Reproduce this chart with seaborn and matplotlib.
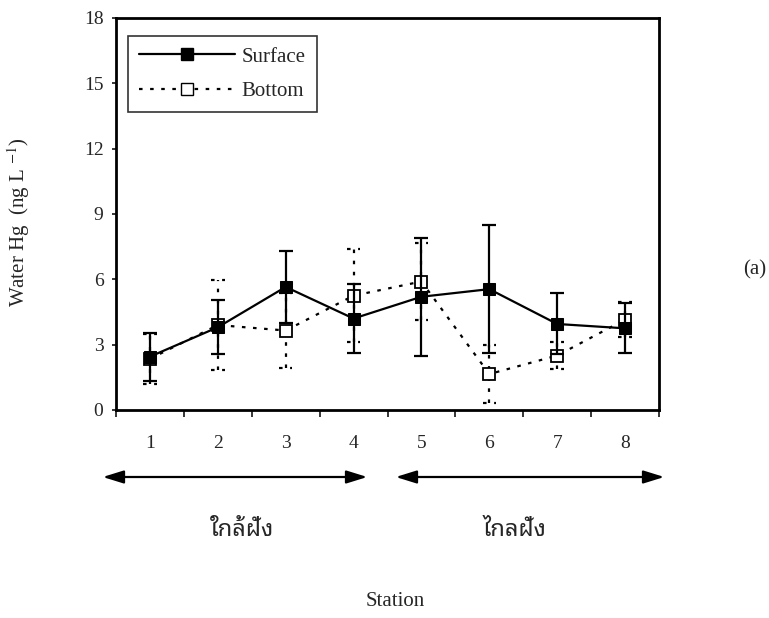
import matplotlib
matplotlib.use("Agg")
import matplotlib.pyplot as plt
import seaborn as sns
import pandas as pd
from matplotlib.lines import Line2D
from matplotlib import font_manager

# ---------------- data ----------------
stations = [1, 2, 3, 4, 5, 6, 7, 8]
station_labels = ["1", "2", "3", "4", "5", "6", "7", "8"]
surface_mean = [2.45, 3.8, 5.65, 4.2, 5.2, 5.55, 3.95, 3.75]
surface_err = [1.1, 1.25, 1.65, 1.6, 2.7, 2.95, 1.4, 1.15]
bottom_mean = [2.35, 3.9, 3.65, 5.25, 5.9, 1.65, 2.5, 4.15]
bottom_err = [1.15, 2.05, 1.7, 2.15, 1.75, 1.35, 0.6, 0.8]
y_ticks = [0, 3, 6, 9, 12, 15, 18]
zone_labels = ["ใกล้ฝั่ง", "ไกลฝั่ง"]

# ---------------- fonts ----------------
sns.set_style("ticks")
plt.rcParams["font.family"] = ["Liberation Serif", "DejaVu Serif"]
plt.rcParams["mathtext.fontset"] = "stix"

thai_names = []
try:
    from fontTools.ttLib import TTFont
    for f in font_manager.fontManager.ttflist:
        try:
            tt = TTFont(f.fname, fontNumber=0, lazy=True)
            cmap = tt.getBestCmap()
            if cmap and 0x0E01 in cmap and 0x0E48 in cmap and 0x0E43 in cmap:
                thai_names.append(f.name)
        except Exception:
            pass
except Exception:
    pass
thai_font = None
for pref in ["Noto Sans Thai Looped", "Noto Serif Thai", "Loma", "Norasi", "Garuda"]:
    if pref in thai_names:
        thai_font = pref
        break
if thai_font is None and thai_names:
    thai_font = thai_names[0]
thai_family = [thai_font, "DejaVu Sans"] if thai_font else ["DejaVu Sans"]

df_s = pd.DataFrame({"station": stations, "hg": surface_mean})
df_b = pd.DataFrame({"station": stations, "hg": bottom_mean})

fig = plt.figure(figsize=(7.69, 6.18), dpi=100)
ax = fig.add_axes([116 / 769, 1 - 410 / 618, 543 / 769, 392 / 618])

dash = (0, (1.6, 3.4))

# bottom series (dotted, open squares)
sns.lineplot(data=df_b, x="station", y="hg", ax=ax, color="black", marker="s",
             markersize=9, linewidth=1.6, zorder=3)
lb = ax.lines[-1]
lb.set_linestyle(dash)
lb.set_markerfacecolor("white")
lb.set_markeredgecolor("black")
lb.set_markeredgewidth(1.3)

eb = ax.errorbar(stations, bottom_mean, yerr=bottom_err, fmt="none",
                 ecolor="black", elinewidth=1.6, capsize=0, zorder=2)
for coll in eb[2]:
    coll.set_linestyle(dash)
low_b = [m - e for m, e in zip(bottom_mean, bottom_err)]
up_b = [m + e for m, e in zip(bottom_mean, bottom_err)]
ax.hlines(low_b + up_b, [s - 0.1 for s in stations * 2], [s + 0.1 for s in stations * 2],
          colors="black", linewidth=1.6, linestyles=dash, zorder=2)

# surface series (solid, filled squares)
sns.lineplot(data=df_s, x="station", y="hg", ax=ax, color="black", marker="s",
             markersize=9, linewidth=1.6, zorder=5)
ls = ax.lines[-1]
ls.set_markerfacecolor("black")
ls.set_markeredgecolor("black")
ax.errorbar(stations, surface_mean, yerr=surface_err, fmt="none", ecolor="black",
            elinewidth=1.6, capsize=5, capthick=1.6, zorder=4)

# axes
ax.set_xlim(0.5, 8.5)
ax.set_ylim(0, 18)
ax.set_xticks([s - 0.5 for s in stations] + [stations[-1] + 0.5])
ax.set_xticklabels([])
ax.set_xticks(stations, minor=True)
ax.set_xticklabels(station_labels, minor=True)
ax.tick_params(axis="x", which="major", direction="out", length=5, width=1.3)
ax.tick_params(axis="x", which="minor", length=0, pad=18, labelsize=14)
ax.set_yticks(y_ticks)
ax.set_yticklabels([str(v) for v in y_ticks])
ax.tick_params(axis="y", direction="out", length=3, width=1.3, pad=6, labelsize=14)
for sp in ax.spines.values():
    sp.set_visible(True)
    sp.set_linewidth(2)
    sp.set_color("black")

ax.set_xlabel("")
ax.set_ylabel(r"Water Hg  (ng L $^{-1}$)", fontsize=15)
ax.yaxis.set_label_coords(-0.155, 0.48)

# legend
handles = [
    Line2D([], [], color="black", marker="s", markersize=9, linewidth=1.6,
           markerfacecolor="black", label="Surface"),
    Line2D([], [], color="black", marker="s", markersize=9, linewidth=1.6,
           linestyle=dash, markerfacecolor="white", markeredgecolor="black",
           label="Bottom"),
]
leg = ax.legend(handles=handles, loc="upper left", bbox_to_anchor=(0.022, 0.955),
                frameon=True, fancybox=False, edgecolor="black", fontsize=15,
                handlelength=4.6, borderpad=0.55, labelspacing=0.7, handletextpad=0.3,
                borderaxespad=0.0)
leg.get_frame().set_linewidth(1.2)

# arrows below axis
for x0, x1 in [(100, 370), (393, 667)]:
    fig.add_artist(matplotlib.patches.FancyArrowPatch(
        (x0 / 769, 1 - 477 / 618), (x1 / 769, 1 - 477 / 618),
        transform=fig.transFigure, arrowstyle="<|-|>,head_length=0.9,head_width=0.28",
        mutation_scale=14, color="black", linewidth=1.6))

fig.text(242 / 769, 1 - 530 / 618, zone_labels[0], ha="center", va="center",
         fontsize=17, family=thai_family)
fig.text(515 / 769, 1 - 530 / 618, zone_labels[1], ha="center", va="center",
         fontsize=17, family=thai_family)
fig.text(395 / 769, 1 - 602 / 618, "Station", ha="center", va="center", fontsize=15)
fig.text(766 / 769, 1 - 270 / 618, "(a)", ha="right", va="center", fontsize=15)

fig.savefig("out.png", dpi=100)
